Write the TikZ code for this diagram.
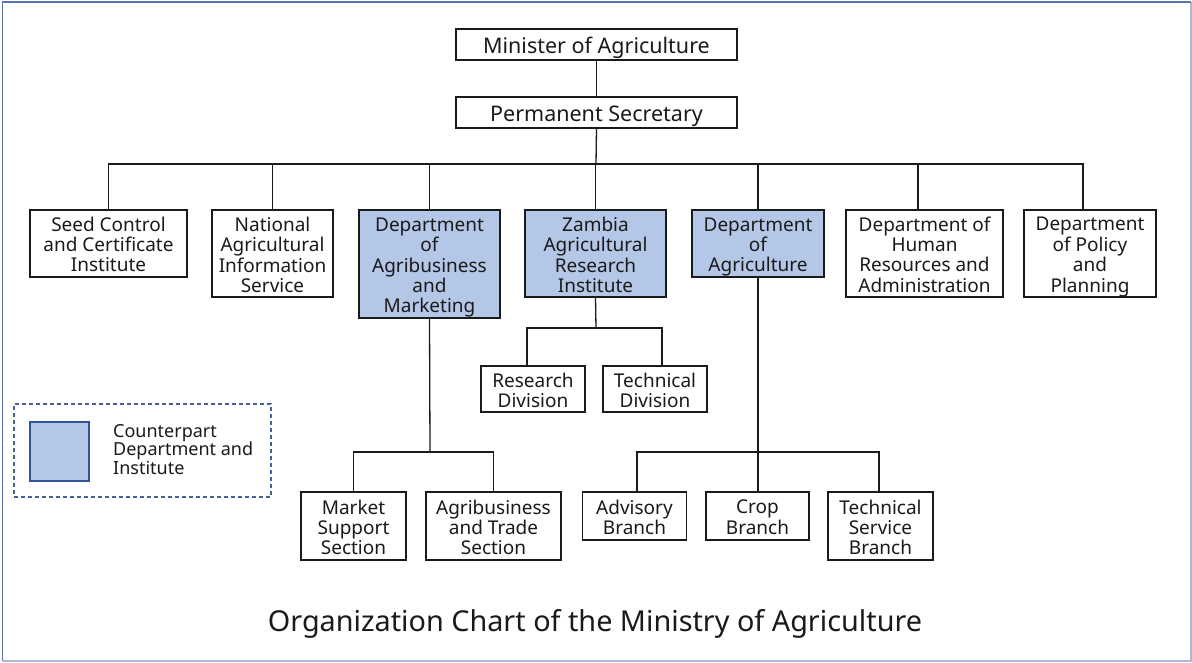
\documentclass[tikz,border=0pt]{standalone}
\usepackage{fontspec}
\setmainfont{Noto Sans}
\definecolor{cpfill}{HTML}{B4C7E7}
\definecolor{cpedge}{HTML}{2F5597}
\definecolor{legendedge}{HTML}{44619D}
\definecolor{framedark}{HTML}{5A74B2}
\definecolor{framelight}{HTML}{AEB8D0}
\definecolor{ink}{HTML}{1A1A1A}
% centred multi-line label, drawn a little below the geometric centre of its box
\newcommand\boxlabel[1]{\raisebox{-4pt}[\height][\depth]{\begin{tabular}{@{}c@{}}#1\end{tabular}}}
\begin{document}
\begin{tikzpicture}[x=1pt,y=-1pt,
  unit/.style={draw=ink, line width=1.3pt, fill=white, inner sep=0pt,
    text=ink, font=\fontsize{19}{20}\selectfont},
  head/.style={unit, font=\fontsize{21.5}{24}\selectfont},
  cpart/.style={unit, fill=cpfill},
  link/.style={draw=ink, line width=1.3pt},
]
\useasboundingbox (0,0) rectangle (1192,662);

% outer frame
\draw[framelight, line width=1.6pt] (2.5,661) -- (1190.8,661) -- (1190.8,2);
\draw[framedark, line width=1.6pt] (1190.8,2) -- (2.5,2) -- (2.5,661);

% top of the hierarchy
\node[head, minimum width=281pt, minimum height=31pt] (minister) at (596.5,44.5) {\boxlabel{Minister of Agriculture}};
\node[head, minimum width=281pt, minimum height=31pt] (perm) at (596.5,112.5) {\boxlabel{Permanent Secretary}};

% departments and institutes
\node[unit,  minimum width=157pt, minimum height=67pt]  (seed)   at (108.5,243.5) {\boxlabel{Seed Control\\and Certificate\\Institute}};
\node[unit,  minimum width=121pt, minimum height=87pt]  (nais)   at (272.5,253.5) {\boxlabel{National\\Agricultural\\Information\\Service}};
\node[cpart, minimum width=141pt, minimum height=108pt] (dam)    at (429.5,264)   {\boxlabel{Department\\of\\Agribusiness\\and\\Marketing}};
\node[cpart, minimum width=141pt, minimum height=87pt]  (zari)   at (595.5,253.5) {\boxlabel{Zambia\\Agricultural\\Research\\Institute}};
\node[cpart, minimum width=132pt, minimum height=67pt]  (doa)    at (758,243.5)   {\boxlabel{Department\\of\\Agriculture}};
\node[unit,  minimum width=157pt, minimum height=87pt]  (hr)     at (924.5,253.5) {\boxlabel{Department of\\Human\\Resources and\\Administration}};
\node[unit,  minimum width=132pt, minimum height=87pt]  (policy) at (1090,253.5)  {\boxlabel{Department\\of Policy\\and\\Planning}};

% divisions, sections and branches
\node[unit, minimum width=104pt, minimum height=46pt] (research)  at (533,389)   {\boxlabel{Research\\Division}};
\node[unit, minimum width=104pt, minimum height=46pt] (technical) at (655,389)   {\boxlabel{Technical\\Division}};
\node[unit, minimum width=105pt, minimum height=68pt] (market)    at (353.5,526) {\boxlabel{Market\\Support\\Section}};
\node[unit, minimum width=135pt, minimum height=68pt] (trade)     at (493.5,526) {\boxlabel{Agribusiness\\and Trade\\Section}};
\node[unit, minimum width=104pt, minimum height=48pt] (advisory)  at (634.5,516) {\boxlabel{Advisory\\Branch}};
\node[unit, minimum width=103pt, minimum height=48pt] (crop)      at (757.5,516) {\boxlabel{Crop\\Branch}};
\node[unit, minimum width=105pt, minimum height=68pt] (tsb)       at (880.5,526) {\boxlabel{Technical\\Service\\Branch}};

% connector junctions
\coordinate (bus)   at (596,164);
\coordinate (busR)  at (1083,164);
\coordinate (hrtap) at (918,164);
\coordinate (zj)    at (596,328);
\coordinate (rsL)   at (527,328);
\coordinate (rsR)   at (662,328);
\coordinate (dj)    at (430,452);
\coordinate (aL)    at (637,452);
\coordinate (aR)    at (879,452);

% connectors
\draw[link] (minister) -- (perm);
\draw[link] (perm.south) -- (bus);
\draw[link] (seed.north) -- (seed.north |- bus) -- (busR) -- (busR |- policy.north);
\draw[link] (nais.north) -- (nais.north |- bus);
\draw[link] (dam.north)  -- (dam.north |- bus);
\draw[link] (zari.north) -- (zari.north |- bus);
\draw[link] (doa.north)  -- (doa.north |- bus);
\draw[link] (hrtap) -- (hrtap |- hr.north);

\draw[link] (zari.south) -- (zj);
\draw[link] (rsL |- research.north) -- (rsL) -- (rsR) -- (rsR |- technical.north);

\draw[link] (dam.south) -- (dj);
\draw[link] (market.north) -- (market.north |- dj) -- (trade.north |- dj) -- (trade.north);

\draw[link] (doa.south) -- (doa.south |- crop.north);
\draw[link] (aL |- advisory.north) -- (aL) -- (aR) -- (aR |- tsb.north);

% legend
\node[draw=legendedge, line width=1.1pt, dash pattern=on 4pt off 3pt,
  minimum width=257pt, minimum height=93pt, inner sep=0pt] (legend) at (142.5,450.5) {};
\node[draw=cpedge, fill=cpfill, line width=1.1pt, minimum width=59pt, minimum height=59pt,
  inner sep=0pt] (swatch) at (59.5,451.5) {};
\node[anchor=west, align=left, inner sep=0pt, text=ink,
  font=\fontsize{18}{18.5}\selectfont] (legendtext) at (113,449.5)
  {Counterpart\\Department and\\Institute};

% caption
\node[text=ink, inner sep=0pt, font=\fontsize{28.8}{32}\selectfont] (caption) at (595,624)
  {Organization Chart of the Ministry of Agriculture};
\end{tikzpicture}
\end{document}
